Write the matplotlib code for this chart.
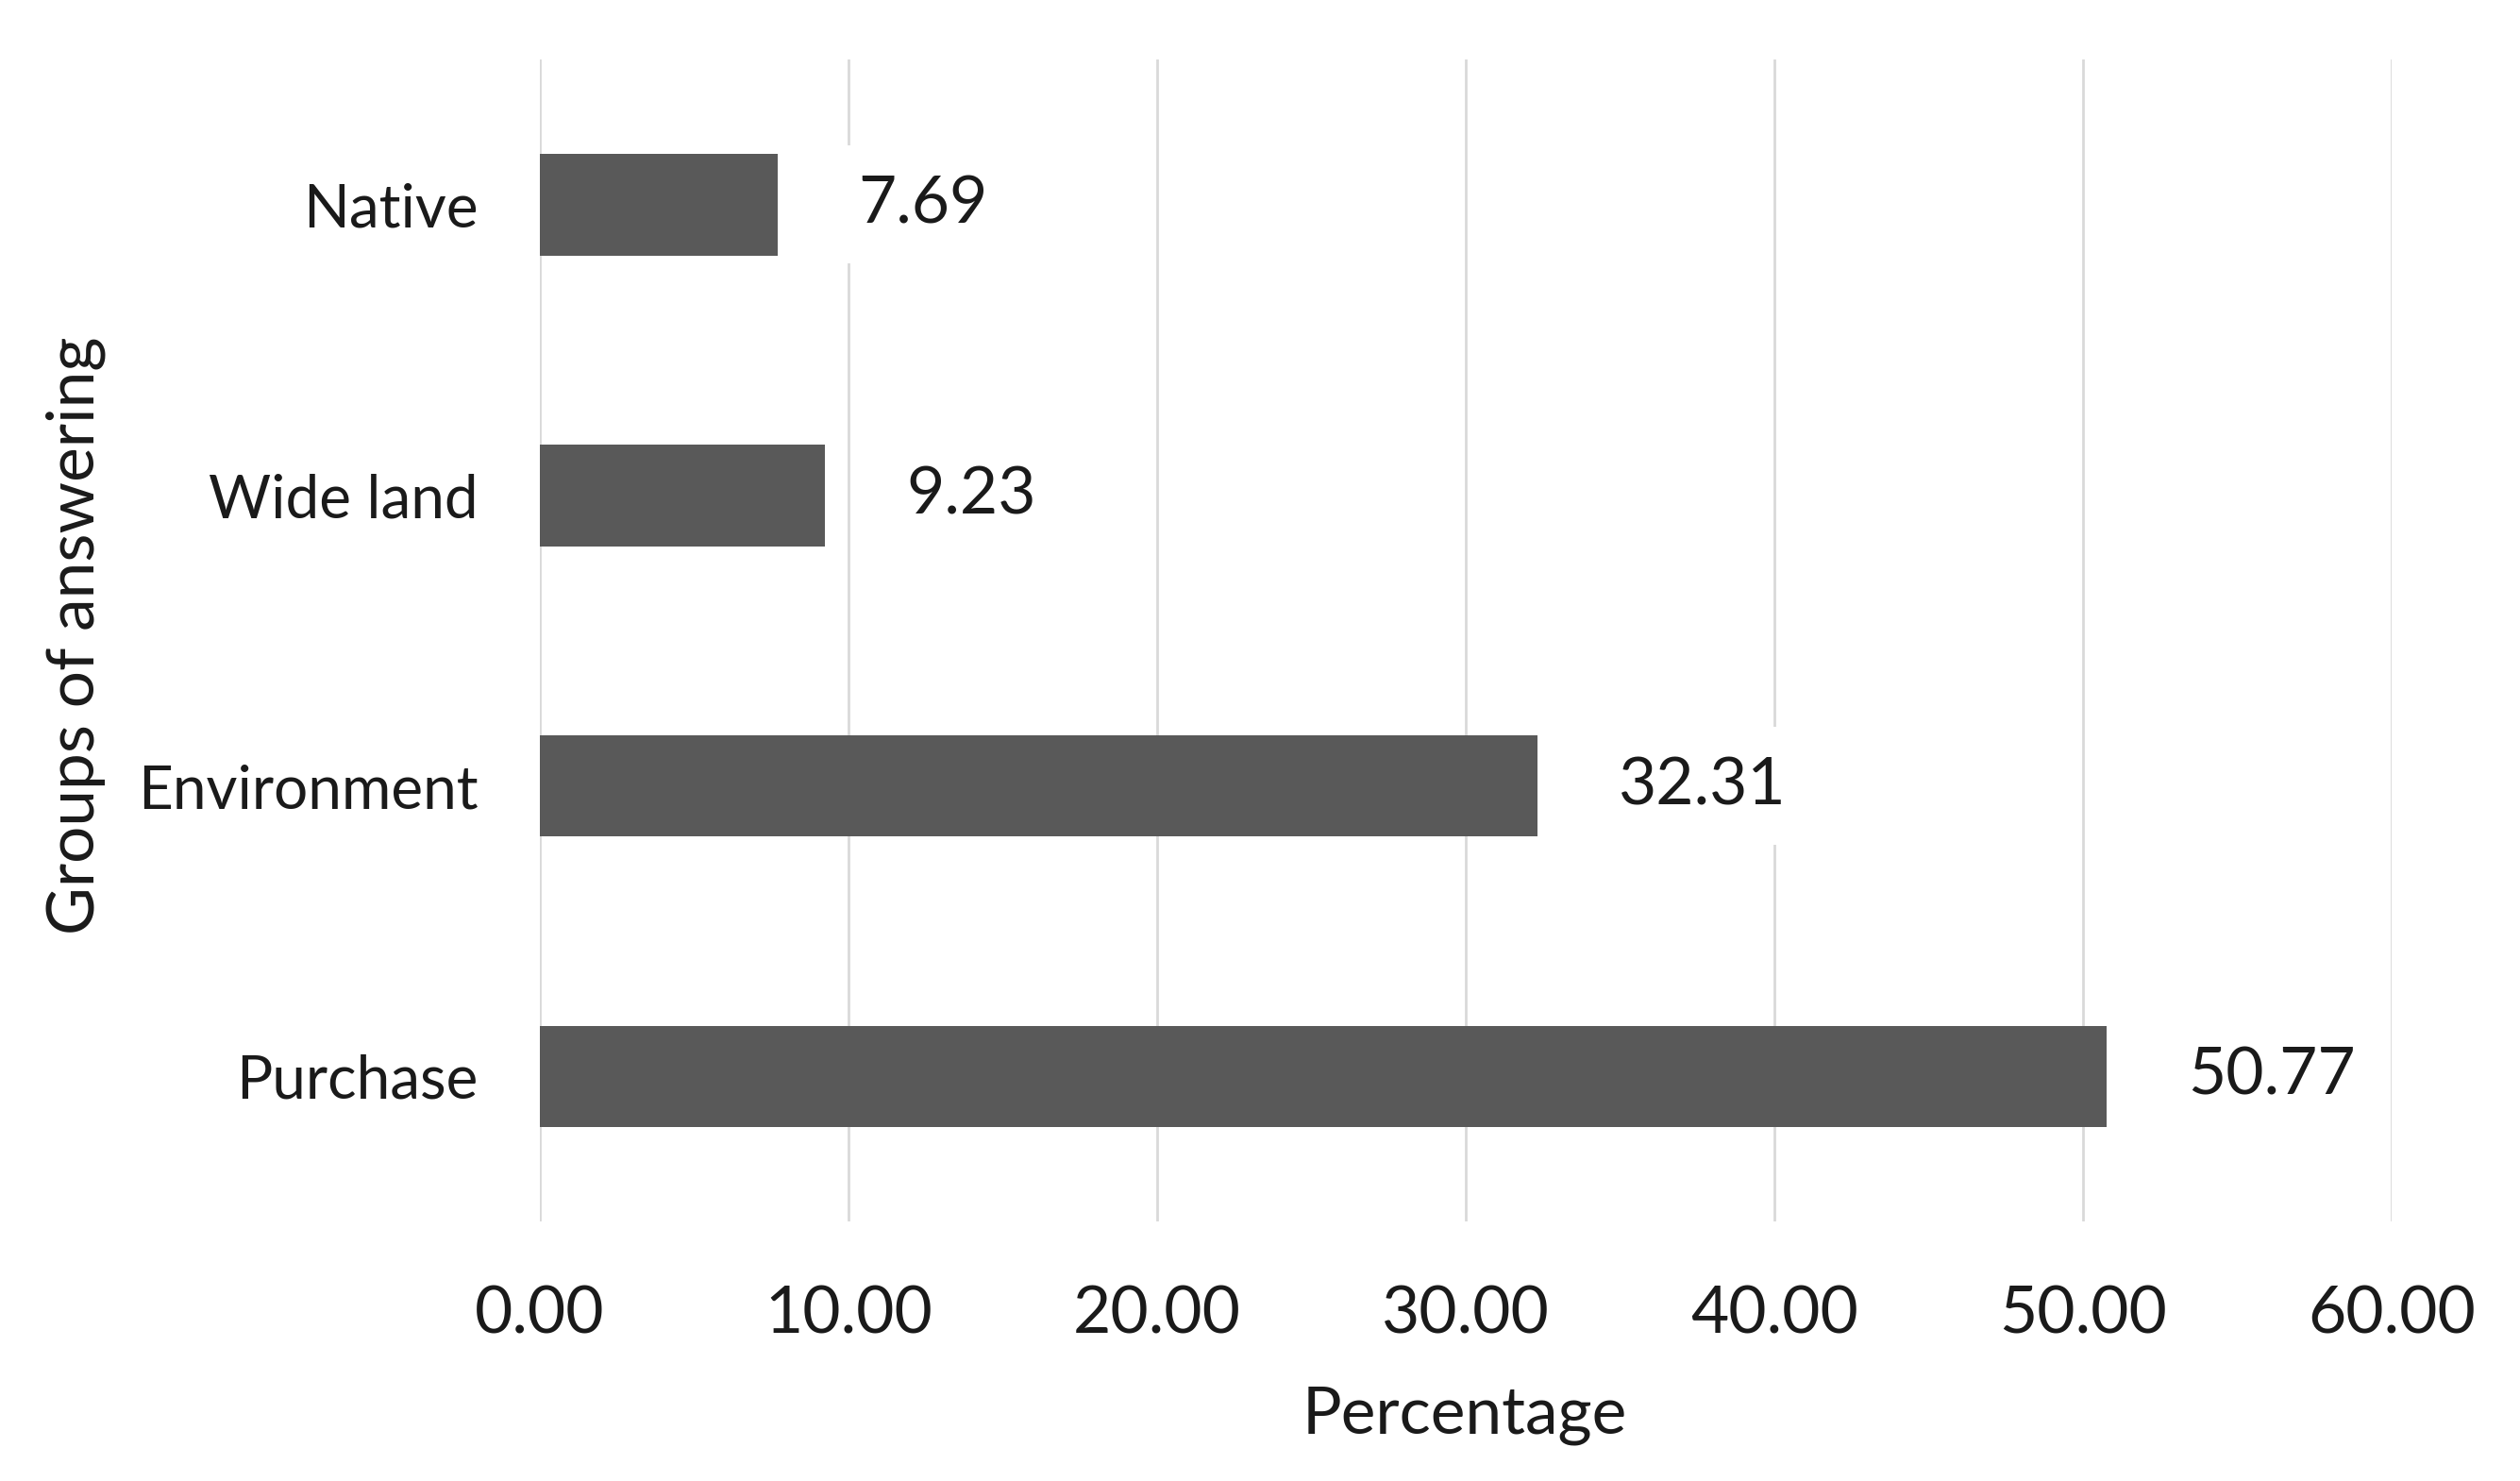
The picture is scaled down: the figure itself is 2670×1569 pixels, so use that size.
import matplotlib
matplotlib.use("Agg")
import matplotlib.pyplot as plt

groups = ["Purchase", "Environment", "Wide land", "Native"]
percent = [50.77, 32.31, 9.23, 7.69]
x_ticks = [0, 10, 20, 30, 40, 50, 60]

plt.rcParams['font.family'] = ['Lato', 'DejaVu Sans']
txt_color = '#1a1a1a'
fs = 50

fig = plt.figure(figsize=(26.7, 15.69), dpi=100)
ax = fig.add_axes([0.2143, 0.175, 0.7347, 0.785])

ax.barh(groups, percent, height=0.35, color='#595959', zorder=2)

# value labels sit on white boxes that cut through the grid lines
for i, v in enumerate(percent):
    ax.annotate('%.2f' % v, (v, i), xytext=(62, 0), textcoords='offset points',
                ha='left', va='center', fontsize=fs, color=txt_color, zorder=3,
                bbox=dict(boxstyle='square,pad=0.45', fc='white', ec='none'))

ax.set_xlim(0, 60)
ax.set_ylim(-0.5, 3.5)
ax.set_xticks(x_ticks)
ax.set_xticklabels(['%.2f' % t for t in x_ticks])
ax.grid(axis='x', color='#d9d9d9', linewidth=2, zorder=0)
ax.set_axisbelow(True)
for s in ax.spines.values():
    s.set_visible(False)
ax.tick_params(axis='both', length=0, colors=txt_color)
ax.tick_params(axis='x', pad=48, labelsize=fs)
ax.tick_params(axis='y', pad=47, labelsize=46)

fig.text(0.581, 0.0445, 'Percentage', ha='center', va='center', fontsize=fs, color=txt_color)
fig.text(0.030, 0.571, 'Groups of answering', ha='center', va='center', rotation=90,
         fontsize=fs, color=txt_color)

fig.savefig('out.png', dpi=100, facecolor='white')
